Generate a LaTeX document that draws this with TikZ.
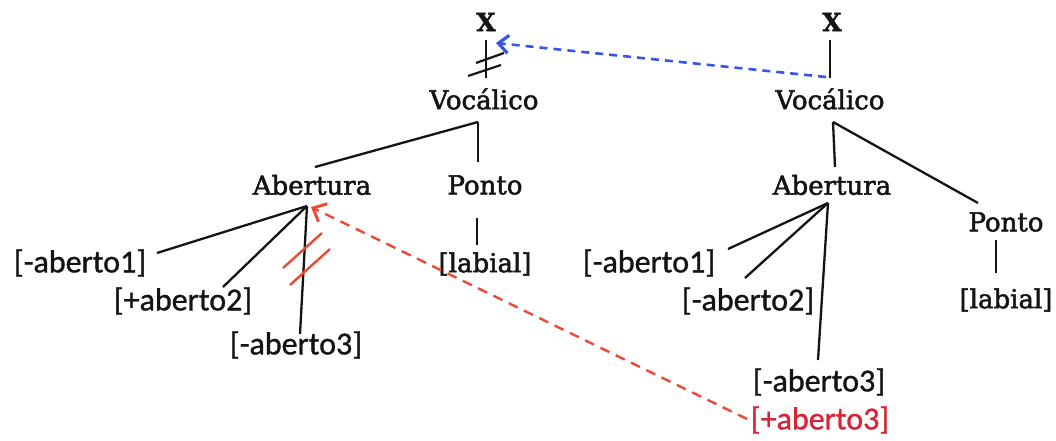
\documentclass[tikz,border=0pt]{standalone}
\usepackage{fontspec}
\setmainfont{DejaVu Serif}
\newfontfamily\slabfont[FakeBold=2]{DejaVu Serif}
\newfontfamily\slabbold[FakeBold=1.5]{DejaVu Serif Bold}
\newfontfamily\calib[FakeBold=1]{Carlito}
\usetikzlibrary{arrows.meta}
\definecolor{myblue}{RGB}{55,85,230}
\definecolor{myred}{RGB}{235,75,50}
\definecolor{redtext}{RGB}{215,35,55}
\definecolor{ink}{RGB}{20,20,20}
\begin{document}
\begin{tikzpicture}[x=1pt,y=-1pt,
  slab/.style={font=\slabfont\fontsize{26}{30}\selectfont, text=ink, inner sep=0pt},
  slabb/.style={font=\slabbold\fontsize{25}{28}\selectfont, text=ink, inner sep=0pt},
  feat/.style={font=\calib\fontsize{32}{36}\selectfont, text=ink, inner sep=0pt},
  edge/.style={draw=ink, line width=2.3pt},
  cut/.style={draw=ink, line width=2.2pt},
  rcut/.style={draw=myred, line width=2.4pt},
  bluelink/.style={draw=myblue, line width=2.6pt, dash pattern=on 8pt off 6pt, -{Straight Barb[length=10pt,width=18pt,line width=3.2pt]}},
  redlink/.style={draw=myred, line width=2.4pt, dash pattern=on 10pt off 7pt, -{Straight Barb[length=11pt,width=20pt,line width=3pt]}}]
\useasboundingbox (0,0) rectangle (1056,441);
\fill[white] (0,0) rectangle (1056,441);

% ---------- left tree ----------
\node[slabb] (XL) at (486,22) {X};
\node[slab] (vocL) at (484,99) {Vocálico};
\node[slab] (abL) at (312,185) {Abertura};
\node[slab] (poL) at (485,185) {Ponto};
\node[slab] (lbL) at (485,264) {[labial]};
\node[feat] (a1L) at (80,263) {[-aberto1]};
\node[feat] (a2L) at (183,301) {[+aberto2]};
\node[feat] (a3L) at (296,345) {[-aberto3]};

\coordinate (xLb) at (486,40);
\coordinate (vLt) at (486,78);
\coordinate (vLb) at (478,122);
\coordinate (abLt) at (315,167);
\coordinate (poLt) at (478,162);
\coordinate (poLb) at (477,218);
\coordinate (lbLt) at (477,245);
\coordinate (abLb) at (307,206);
\coordinate (a1Lt) at (157,253);
\coordinate (a2Lt) at (223,287);
\coordinate (a3Lt) at (300,334);

\draw[edge] (xLb) -- (vLt);
\draw[edge] (vLb) -- (abLt);
\draw[edge] (vLb) -- (poLt);
\draw[edge] (poLb) -- (lbLt);
\draw[edge] (abLb) -- (a1Lt);
\draw[edge] (abLb) -- (a2Lt);
\draw[edge] (abLb) -- (a3Lt);

% black double cut
\coordinate (c1a) at (476,63);
\coordinate (c1b) at (504,53);
\coordinate (c2a) at (468,76);
\coordinate (c2b) at (501,65);
\draw[cut] (c1a) -- (c1b);
\draw[cut] (c2a) -- (c2b);

% red double cut
\coordinate (r1a) at (283,268);
\coordinate (r1b) at (322,233);
\coordinate (r2a) at (290,285);
\coordinate (r2b) at (330,249);
\draw[rcut] (r1a) -- (r1b);
\draw[rcut] (r2a) -- (r2b);

% ---------- right tree ----------
\node[slabb] (XR) at (832,22) {X};
\node[slab] (vocR) at (830,99) {Vocálico};
\node[slab] (abR) at (832,185) {Abertura};
\node[slab] (poR) at (1006,222) {Ponto};
\node[slab] (lbR) at (1006,300) {[labial]};
\node[feat] (a1R) at (649,263) {[-aberto1]};
\node[feat] (a2R) at (748,301) {[-aberto2]};
\node[feat] (a3R) at (819,382) {[-aberto3]};
\node[feat, text=redtext] (a3pR) at (820,420) {[+aberto3]};

\coordinate (xRb) at (830,40);
\coordinate (vRt) at (830,78);
\coordinate (vRb) at (833,122);
\coordinate (abRt) at (835,167);
\coordinate (poRt) at (978,203);
\coordinate (poRb) at (996,240);
\coordinate (lbRt) at (996,273);
\coordinate (abRb) at (828,203);
\coordinate (a1Rt) at (728,249);
\coordinate (a2Rt) at (745,278);
\coordinate (a3Rt) at (818,360);

\draw[edge] (xRb) -- (vRt);
\draw[edge] (vRb) -- (abRt);
\draw[edge] (vRb) -- (poRt);
\draw[edge] (poRb) -- (lbRt);
\draw[edge] (abRb) -- (a1Rt);
\draw[edge] (abRb) -- (a2Rt);
\draw[edge] (abRb) -- (a3Rt);

% ---------- association links ----------
\coordinate (bS) at (826,77);
\coordinate (bE) at (496,43);
\draw[bluelink] (bS) -- (bE);
\coordinate (rS) at (747,419);
\coordinate (rE) at (311,207);
\draw[redlink] (rS) -- (rE);
\end{tikzpicture}
\end{document}
